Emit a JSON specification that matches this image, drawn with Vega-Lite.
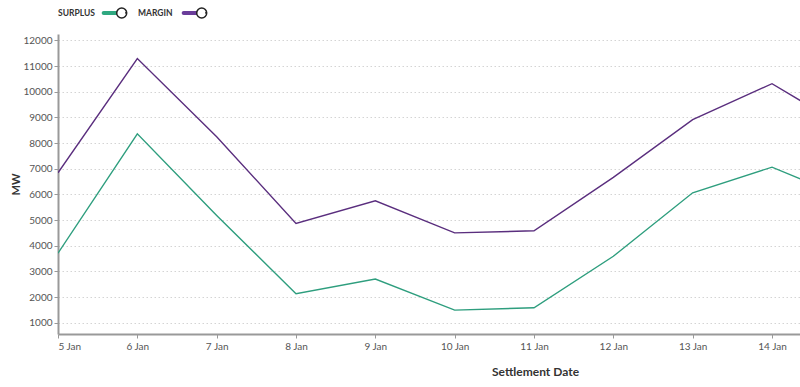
{
  "$schema": "https://vega.github.io/schema/vega-lite/v6.json",
  "width": 742,
  "height": 300,
  "autosize": {"type": "none"},
  "padding": {"left": 58, "top": 34, "right": 0, "bottom": 53},
  "background": "white",
  "config": {"view": {"stroke": null}, "font": "Lato"},
  "data": {
    "values": [
      {"date": "2024-01-05T00:00:00", "series": "SURPLUS", "mw": 3710},
      {"date": "2024-01-06T00:00:00", "series": "SURPLUS", "mw": 8360},
      {"date": "2024-01-07T00:00:00", "series": "SURPLUS", "mw": 5180},
      {"date": "2024-01-08T00:00:00", "series": "SURPLUS", "mw": 2130},
      {"date": "2024-01-09T00:00:00", "series": "SURPLUS", "mw": 2700},
      {"date": "2024-01-10T00:00:00", "series": "SURPLUS", "mw": 1490},
      {"date": "2024-01-11T00:00:00", "series": "SURPLUS", "mw": 1580},
      {"date": "2024-01-12T00:00:00", "series": "SURPLUS", "mw": 3590},
      {"date": "2024-01-13T00:00:00", "series": "SURPLUS", "mw": 6060},
      {"date": "2024-01-14T00:00:00", "series": "SURPLUS", "mw": 7060},
      {"date": "2024-01-15T00:00:00", "series": "SURPLUS", "mw": 5780},
      {"date": "2024-01-05T00:00:00", "series": "MARGIN", "mw": 6840},
      {"date": "2024-01-06T00:00:00", "series": "MARGIN", "mw": 11290},
      {"date": "2024-01-07T00:00:00", "series": "MARGIN", "mw": 8240},
      {"date": "2024-01-08T00:00:00", "series": "MARGIN", "mw": 4870},
      {"date": "2024-01-09T00:00:00", "series": "MARGIN", "mw": 5750},
      {"date": "2024-01-10T00:00:00", "series": "MARGIN", "mw": 4500},
      {"date": "2024-01-11T00:00:00", "series": "MARGIN", "mw": 4580},
      {"date": "2024-01-12T00:00:00", "series": "MARGIN", "mw": 6660},
      {"date": "2024-01-13T00:00:00", "series": "MARGIN", "mw": 8910},
      {"date": "2024-01-14T00:00:00", "series": "MARGIN", "mw": 10310},
      {"date": "2024-01-15T00:00:00", "series": "MARGIN", "mw": 8470}
    ]
  },
  "encoding": {
    "x": {
      "field": "date",
      "type": "temporal",
      "scale": {
        "domain": [
          {"year": 2024, "month": 1, "date": 5},
          {"year": 2024, "month": 1, "date": 14, "hours": 8, "minutes": 28}
        ],
        "nice": false
      },
      "axis": {
        "title": "Settlement Date",
        "format": "%-d %b",
        "tickCount": {"interval": "day", "step": 1},
        "grid": false,
        "labelFontSize": 10,
        "labelColor": "#555555",
        "labelPadding": 3,
        "tickColor": "#999999",
        "tickSize": 4,
        "domainColor": "#999999",
        "domainWidth": 2,
        "titleFontSize": 12,
        "titleFontWeight": "bold",
        "titleColor": "#333333",
        "titlePadding": 15,
        "titleX": 477
      }
    },
    "y": {
      "field": "mw",
      "type": "quantitative",
      "scale": {"domain": [560, 12247], "nice": false, "zero": false},
      "axis": {
        "title": "MW",
        "values": [1000, 2000, 3000, 4000, 5000, 6000, 7000, 8000, 9000, 10000, 11000, 12000],
        "format": "d",
        "labelFontSize": 10,
        "labelColor": "#555555",
        "labelPadding": 2,
        "tickColor": "#999999",
        "tickSize": 4,
        "domainColor": "#999999",
        "domainWidth": 2,
        "gridColor": "#d4d4d4",
        "gridDash": [1.5, 2.5],
        "titleFontSize": 11,
        "titleFontWeight": "bold",
        "titleColor": "#333333",
        "titlePadding": 1
      }
    }
  },
  "layer": [
    {
      "mark": {"type": "line", "clip": true, "strokeWidth": 1.4},
      "encoding": {
        "color": {
          "field": "series",
          "type": "nominal",
          "scale": {"domain": ["MARGIN", "SURPLUS"], "range": ["#5a2e7e", "#2e9e7e"]},
          "legend": null
        }
      }
    },
    {
      "mark": {"type": "point", "filled": true, "clip": true, "size": 0, "opacity": 0},
      "encoding": {
        "fill": {
          "field": "series",
          "type": "nominal",
          "scale": {"domain": ["SURPLUS", "MARGIN"], "range": ["#2fa880", "#6a3d9a"]},
          "legend": {
            "title": null,
            "orient": "none",
            "legendX": 0,
            "legendY": -27,
            "direction": "horizontal",
            "padding": 0,
            "columnPadding": 8,
            "symbolSize": 100,
            "symbolOpacity": 1,
            "symbolStrokeColor": "#222222",
            "symbolStrokeWidth": 1.5,
            "symbolDash": [62.8, 400],
            "symbolType": "M 12.54 0 C 12.54 0.5523 12.0923 1 11.54 1 C 10.9877 1 10.54 0.5523 10.54 0 C 10.54 -0.5523 10.9877 -1 11.54 -1 C 12.0923 -1 12.54 -0.5523 12.54 0 C 12.54 -0.5523 12.0923 -1 11.54 -1 C 10.9877 -1 10.54 -0.5523 10.54 0 C 10.54 0.5523 10.9877 1 11.54 1 C 12.0923 1 12.54 0.5523 12.54 0 L 10.6 -0.4 L 7.94 -0.4 C 7.72 -0.4 7.54 -0.22 7.54 0 C 7.54 0.22 7.72 0.4 7.94 0.4 L 10.6 0.4 L 10.6 -0.4 L 12.54 0 Z",
            "labelOffset": -12,
            "labelFontSize": 8.5,
            "labelFontWeight": "bold",
            "labelColor": "#333333"
          }
        }
      }
    }
  ]
}
